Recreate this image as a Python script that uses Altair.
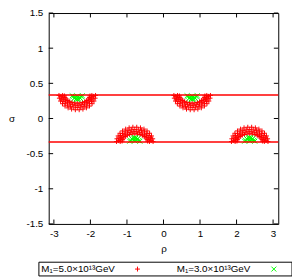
import altair as alt
import pandas as pd

# ---- values ----
SERIES = ["M₁=5.0×10¹³GeV", "M₁=3.0×10¹³GeV"]
COLORS = ["#ff0000", "#00ff00"]

# cluster centres (rho, sigma)
CENTER_RHO = [-2.36, 0.785, -0.785, 2.36]
CENTER_SIGMA = [0.333, 0.333, -0.333, -0.333]

# red crescent: offsets from the centre (upper clusters; lower clusters are mirrored in sigma)
RED_DRHO = [0.50, 0.49, 0.457, 0.405, 0.335, 0.25, 0.155, 0.053, -0.053, -0.155, -0.25, -0.335, -0.405, -0.457, -0.49, -0.50,
            0.448, 0.428, 0.39, 0.334, 0.265, 0.183, 0.094, 0.0, -0.094, -0.183, -0.265, -0.334, -0.39, -0.428, -0.448,
            0.40, 0.391, 0.366, 0.324, 0.268, 0.20, 0.124, 0.042, -0.042, -0.124, -0.20, -0.268, -0.324, -0.366, -0.391, -0.40,
            0.348, 0.333, 0.303, 0.26, 0.206, 0.142, 0.073, 0.0, -0.073, -0.142, -0.206, -0.26, -0.303, -0.333, -0.348]
RED_DSIGMA = [-0.005, -0.044, -0.085, -0.123, -0.156, -0.182, -0.200, -0.209, -0.209, -0.200, -0.182, -0.156, -0.123, -0.085, -0.044, -0.005,
              -0.018, -0.054, -0.088, -0.117, -0.142, -0.160, -0.171, -0.175, -0.171, -0.160, -0.142, -0.117, -0.088, -0.054, -0.018,
              -0.005, -0.030, -0.059, -0.085, -0.108, -0.126, -0.138, -0.144, -0.144, -0.138, -0.126, -0.108, -0.085, -0.059, -0.030, -0.005,
              -0.012, -0.036, -0.058, -0.077, -0.093, -0.105, -0.112, -0.115, -0.112, -0.105, -0.093, -0.077, -0.058, -0.036, -0.012]

# green blob: offsets from the centre
GREEN_DRHO = [0.0, -0.06, 0.06, -0.11, 0.11, -0.03, 0.03, -0.08, 0.08, -0.14, 0.14, 0.0, 0.0]
GREEN_DSIGMA = [-0.035, -0.030, -0.030, -0.020, -0.020, -0.055, -0.055, -0.045, -0.045, -0.010, -0.010, -0.015, -0.060]

LINE_SIGMA = [0.333, -0.333]
X_TICKS = [-3, -2, -1, 0, 1, 2, 3]
Y_TICKS = [-1.5, -1, -0.5, 0, 0.5, 1, 1.5]

# ---- build table ----
rows = []
for cr, cs in zip(CENTER_RHO, CENTER_SIGMA):
    sgn = 1 if cs > 0 else -1
    for dr, ds in zip(RED_DRHO, RED_DSIGMA):
        rows.append({"rho": cr + dr, "sigma": cs + sgn * ds, "series": SERIES[0]})
for cr, cs in zip(CENTER_RHO, CENTER_SIGMA):
    sgn = 1 if cs > 0 else -1
    for dr, ds in zip(GREEN_DRHO, GREEN_DSIGMA):
        rows.append({"rho": cr + dr, "sigma": cs + sgn * ds, "series": SERIES[1]})
df = pd.DataFrame(rows)

FONT = "Liberation Sans"
W, H = 234, 215
PLUS = "M-1,0L1,0M0,-1L0,1"
CROSS = "M-1,-1L1,1M-1,1L1,-1"

xs = alt.Scale(domain=[-3.14159, 3.14159], nice=False, zero=False)
ys = alt.Scale(domain=[-1.5, 1.5], nice=False, zero=False)

x_axis = alt.Axis(values=X_TICKS, title="ρ", labelExpr="'' + datum.value", ticks=False,
                  tickSize=0, domain=False, grid=False, labelPadding=5, labelFlush=False,
                  titleX=117, titleY=25, titleBaseline="middle", titleAlign="center")
y_axis = alt.Axis(values=Y_TICKS, title="σ", labelExpr="'' + datum.value", ticks=False,
                  tickSize=0, domain=False, grid=False, labelPadding=6, labelFlush=False,
                  titleAngle=0, titleX=-38, titleY=107.5, titleBaseline="middle",
                  titleAlign="center")

points = alt.Chart(df).mark_point(filled=False, strokeWidth=1, size=25, opacity=1).encode(
    x=alt.X("rho:Q", scale=xs, axis=x_axis),
    y=alt.Y("sigma:Q", scale=ys, axis=y_axis),
    color=alt.Color("series:N", scale=alt.Scale(domain=SERIES, range=COLORS), legend=None),
    shape=alt.Shape("series:N", scale=alt.Scale(domain=SERIES, range=[PLUS, CROSS]), legend=None),
)

lines = alt.Chart(pd.DataFrame({"sigma": LINE_SIGMA})).mark_rule(color="#ff0000", strokeWidth=1.5).encode(
    y=alt.Y("sigma:Q", scale=ys, axis=y_axis)
)

xt = pd.DataFrame({"rho": X_TICKS})
yt = pd.DataFrame({"sigma": Y_TICKS})
TL = 4.5
tick_style = dict(color="black", strokeWidth=1)
xb = alt.Chart(xt).mark_rule(**tick_style).encode(
    x=alt.X("rho:Q", scale=xs, axis=x_axis), y=alt.value(H), y2=alt.value(H - TL))
xtop = alt.Chart(xt).mark_rule(**tick_style).encode(
    x=alt.X("rho:Q", scale=xs, axis=x_axis), y=alt.value(0), y2=alt.value(TL))
yl = alt.Chart(yt).mark_rule(**tick_style).encode(
    y=alt.Y("sigma:Q", scale=ys, axis=y_axis), x=alt.value(0), x2=alt.value(TL))
yr = alt.Chart(yt).mark_rule(**tick_style).encode(
    y=alt.Y("sigma:Q", scale=ys, axis=y_axis), x=alt.value(W), x2=alt.value(W - TL))

# ---- key box below the plot ----
one = alt.Data(values=[{"a": 1}])
frame = alt.Chart(one).mark_rect(filled=False, stroke="black", strokeWidth=1).encode(
    x=alt.value(-10), x2=alt.value(248), y=alt.value(254), y2=alt.value(268))
KEY_Y = 261
key_layers = []
for i, (lx, sx, shp) in enumerate([(-7.5, 90.5, PLUS), (130.5, 229.5, CROSS)]):
    key_layers.append(alt.Chart(one).mark_text(align="left", baseline="middle", font=FONT,
                                               fontSize=10, color="black").encode(
        x=alt.value(lx), y=alt.value(KEY_Y), text=alt.value(SERIES[i])))
    key_layers.append(alt.Chart(one).mark_point(shape=shp, filled=False, strokeWidth=1, size=25,
                                                color=COLORS[i], opacity=1).encode(
        x=alt.value(sx), y=alt.value(KEY_Y)))

chart = alt.layer(points, lines, xb, xtop, yl, yr, frame, *key_layers).properties(
    width=W, height=H,
    autosize=alt.AutoSizeParams(type="none"),
    padding={"left": 41.5, "top": 2.5, "right": 14, "bottom": 54},
).configure_view(stroke="black", strokeWidth=1).configure_axis(
    labelFont=FONT, labelFontSize=10, labelColor="black",
    titleFont=FONT, titleFontSize=10, titleFontWeight="normal", titleColor="black",
)

chart.save("out.html", embed_options={"renderer": "svg", "actions": False})
